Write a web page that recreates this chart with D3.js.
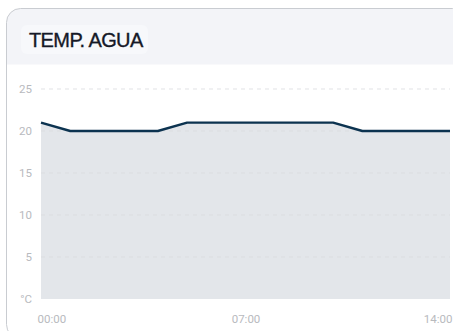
<!DOCTYPE html>
<html>
<head>
<meta charset="utf-8">
<script src="https://cdn.jsdelivr.net/npm/d3@7"></script>
<style>
  html, body { margin: 0; padding: 0; background: #ffffff; }
  svg { display: block; }
</style>
</head>
<body>
<svg id="chart" width="453" height="331"></svg>
<script>
// Hourly water temperature readings (°C)
const hours = [0, 1, 2, 3, 4, 5, 6, 7, 8, 9, 10, 11, 12, 13, 14];
const temps = [21, 20, 20, 20, 20, 21, 21, 21, 21, 21, 21, 20, 20, 20, 20];
const yTicks = [0, 5, 10, 15, 20, 25];
const xTicks = [0, 7, 14];
const title = "TEMP. AGUA";

const svg = d3.select("#chart");
const titleFont = "'Helvetica Neue', Helvetica, Arial, 'Liberation Sans', sans-serif";
const tickFont = "Roboto, 'Noto Sans', sans-serif";

// Card
const card = { x: 6.5, y: 8.5, w: 460, h: 330, r: 14 };
const defs = svg.append("defs");
defs.append("clipPath").attr("id", "cardClip")
  .append("rect").attr("x", card.x).attr("y", card.y)
  .attr("width", card.w).attr("height", card.h).attr("rx", card.r);

svg.append("rect").attr("x", card.x).attr("y", card.y)
  .attr("width", card.w).attr("height", card.h).attr("rx", card.r)
  .attr("fill", "#ffffff");

const inner = svg.append("g").attr("clip-path", "url(#cardClip)");
// Header band
inner.append("rect").attr("x", card.x).attr("y", card.y)
  .attr("width", card.w).attr("height", 56).attr("fill", "#f3f4f8");
inner.append("rect").attr("x", 21).attr("y", 25).attr("width", 127).attr("height", 29)
  .attr("rx", 6).attr("fill", "#f7f8fb");
inner.append("text").attr("x", 29).attr("y", 47)
  .attr("font-family", titleFont).attr("font-size", 20)
  .attr("fill", "#151927").attr("stroke", "#151927").attr("stroke-width", 0.35)
  .attr("letter-spacing", -0.6).text(title);

svg.append("rect").attr("x", card.x).attr("y", card.y)
  .attr("width", card.w).attr("height", card.h).attr("rx", card.r)
  .attr("fill", "none").attr("stroke", "#c9ccd1").attr("stroke-width", 1);

// Scales
const x = d3.scaleLinear().domain([0, 14]).range([41, 450]);
const y = d3.scaleLinear().domain([0, 25]).range([299, 89]);

const plot = svg.append("g");
const data = hours.map((h, i) => ({ h, t: temps[i] }));

// Area under the line
plot.append("path").datum(data)
  .attr("d", d3.area().x(d => x(d.h)).y0(y(0)).y1(d => y(d.t)))
  .attr("fill", "#e3e6ea");

// Dashed grid lines
plot.selectAll("line.grid").data(yTicks.filter(d => d > 0)).join("line")
  .attr("class", "grid")
  .attr("x1", 41).attr("x2", 450)
  .attr("y1", d => y(d)).attr("y2", d => y(d))
  .attr("stroke", "#d9dbdf").attr("stroke-width", 1)
  .attr("stroke-dasharray", "4,4").attr("stroke-opacity", 0.8);

// Line
plot.append("path").datum(data)
  .attr("d", d3.line().x(d => x(d.h)).y(d => y(d.t)))
  .attr("fill", "none").attr("stroke", "#0c3350")
  .attr("stroke-width", 2.4).attr("stroke-linejoin", "round");

// Y axis labels
const yAxis = d3.axisLeft(y).tickValues(yTicks).tickSize(0).tickPadding(0)
  .tickFormat(d => d === 0 ? "°C" : d);
const gy = svg.append("g").attr("transform", "translate(32,0)").call(yAxis);
gy.select(".domain").remove();
gy.selectAll("text").attr("font-family", tickFont).attr("font-size", 11.5)
  .attr("fill", "#b8babe");

// X axis labels
const xAxis = d3.axisBottom(x).tickValues(xTicks).tickSize(0).tickPadding(0)
  .tickFormat(d => String(d).padStart(2, "0") + ":00");
const gx = svg.append("g").attr("transform", "translate(0,315)").call(xAxis);
gx.select(".domain").remove();
gx.selectAll("text").attr("font-family", tickFont).attr("font-size", 11.5)
  .attr("fill", "#b8babe")
  .attr("text-anchor", (d, i) => i === 0 ? "start" : i === xTicks.length - 1 ? "end" : "middle")
  .attr("dx", (d, i) => i === 0 ? -4 : i === xTicks.length - 1 ? 2 : 0);
</script>
</body>
</html>
